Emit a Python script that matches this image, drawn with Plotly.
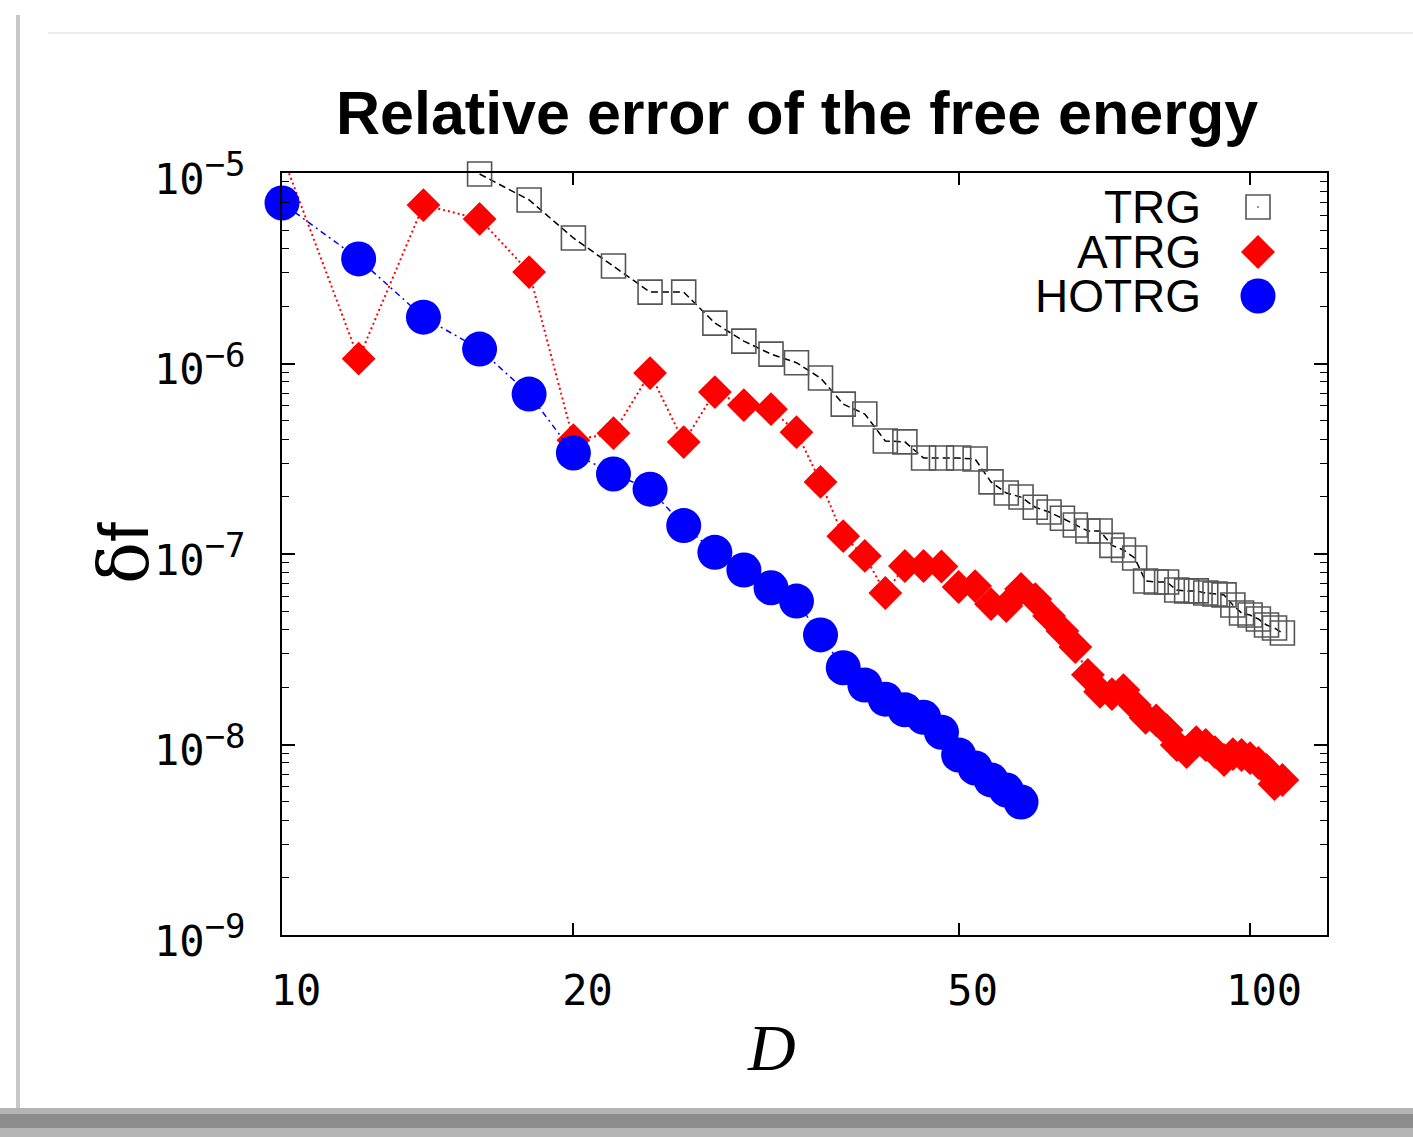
import plotly.graph_objects as go

# ---------------- data ----------------
D_TRG = [16, 18, 20, 22, 24, 26, 28, 30, 32, 34, 36, 38, 40, 42, 44, 46, 48, 50, 52, 54,
         56, 58, 60, 62, 64, 66, 68, 70, 72, 74, 76, 78, 80, 82, 84, 86, 88, 90, 92, 94,
         96, 98, 100, 102, 104, 106, 108]
dF_TRG = [9.88e-6, 7.22e-6, 4.56e-6, 3.25e-6, 2.37e-6, 2.37e-6, 1.63e-6, 1.31e-6, 1.12e-6, 1.01e-6,
          8.39e-7, 6.12e-7, 5.43e-7, 3.92e-7, 3.88e-7, 3.19e-7, 3.19e-7, 3.19e-7, 3.15e-7, 2.39e-7,
          2.09e-7, 1.99e-7, 1.76e-7, 1.66e-7, 1.54e-7, 1.42e-7, 1.32e-7, 1.32e-7, 1.11e-7, 1.05e-7,
          9.53e-8, 7.21e-8, 7.13e-8, 7.13e-8, 6.47e-8, 6.40e-8, 6.40e-8, 6.24e-8, 6.17e-8, 6.10e-8,
          5.40e-8, 4.90e-8, 4.78e-8, 4.56e-8, 4.24e-8, 4.09e-8, 3.85e-8]

D_ATRG = [10, 12, 14, 16, 18, 20, 22, 24, 26, 28, 30, 32, 34, 36, 38, 40, 42, 44, 46, 48,
          50, 52, 54, 56, 58, 60, 62, 64, 66, 68, 70, 72, 74, 76, 78, 80, 82, 84, 86, 88,
          90, 92, 94, 96, 98, 100, 102, 104, 106, 108]
dF_ATRG = [1.25e-5, 1.06e-6, 6.79e-6, 5.74e-6, 3.02e-6, 3.96e-7, 4.31e-7, 8.91e-7, 3.87e-7, 7.08e-7,
           6.05e-7, 5.76e-7, 4.36e-7, 2.39e-7, 1.24e-7, 9.77e-8, 6.24e-8, 8.65e-8, 8.65e-8, 8.60e-8,
           6.71e-8, 6.79e-8, 5.46e-8, 5.33e-8, 6.55e-8, 5.80e-8, 4.73e-8, 3.94e-8, 3.25e-8, 2.32e-8,
           1.89e-8, 1.84e-8, 1.93e-8, 1.61e-8, 1.38e-8, 1.34e-8, 1.19e-8, 9.94e-9, 9.13e-9, 1.03e-8,
           9.94e-9, 9.13e-9, 8.29e-9, 8.91e-9, 8.81e-9, 8.49e-9, 8.00e-9, 7.35e-9, 6.20e-9, 6.51e-9]

D_HOTRG = [10, 12, 14, 16, 18, 20, 22, 24, 26, 28, 30, 32, 34, 36, 38, 40, 42, 44, 46, 48,
           50, 52, 54, 56, 58]
dF_HOTRG = [6.96e-6, 3.54e-6, 1.75e-6, 1.19e-6, 6.91e-7, 3.39e-7, 2.63e-7, 2.19e-7, 1.41e-7, 1.02e-7,
            8.24e-8, 6.65e-8, 5.66e-8, 3.76e-8, 2.53e-8, 2.05e-8, 1.73e-8, 1.52e-8, 1.39e-8, 1.16e-8,
            8.81e-9, 7.53e-9, 6.52e-9, 5.77e-9, 4.99e-9]

x_tickvals = [10, 20, 50, 100]
x_ticktext = ["10", "20", "50", "100"]
y_tickvals = [1e-9, 1e-8, 1e-7, 1e-6, 1e-5]
y_exponents = ["9", "8", "7", "6", "5"]
y_ticktext = ['10<sup><span style="font-size:34px">\u2212' + e + '</span></sup>' for e in y_exponents]
y_minor = [k * 10.0 ** e for e in range(-9, -5) for k in range(2, 10)]

title_text = "Relative error of the free energy"
legend_names = ["TRG", "ATRG", "HOTRG"]

# ---------------- layout geometry ----------------
W, H = 1413, 1137
L, R, T, B = 282, 1327, 173, 935


def px(x):
    return (x - L) / (R - L)


def py(y):
    return (B - y) / (B - T)


fig = go.Figure()

fig.add_trace(go.Scatter(
    x=D_TRG, y=dF_TRG, mode="lines+markers", name="TRG", cliponaxis=False,
    line=dict(color="black", width=1.5, dash="7px,4px"),
    marker=dict(symbol="square-open", size=24, color="#555555",
                line=dict(width=1.6, color="#555555")),
))
fig.add_trace(go.Scatter(
    x=D_ATRG, y=dF_ATRG, mode="lines+markers", name="ATRG", cliponaxis=True,
    line=dict(color="#ff0000", width=2, dash="2px,3px"),
    marker=dict(symbol="diamond", size=26, color="#ff0000", line=dict(width=0)),
))
fig.add_trace(go.Scatter(
    x=D_HOTRG, y=dF_HOTRG, mode="lines+markers", name="HOTRG", cliponaxis=False,
    line=dict(color="#0000ff", width=1.5, dash="6px,4px,2px,4px"),
    marker=dict(symbol="circle", size=35, color="#0000ff", line=dict(width=0)),
))

tickfont = dict(family="DejaVu Sans Mono", size=42, color="black")

fig.update_layout(
    width=W, height=H, autosize=False,
    margin=dict(l=L, r=W - R, t=T, b=H - B, pad=0),
    paper_bgcolor="white", plot_bgcolor="white",
    showlegend=False,
    xaxis=dict(
        type="log", range=[1, 2.0795],
        tickmode="array", tickvals=x_tickvals, ticktext=x_ticktext,
        ticks="inside", ticklen=12, tickwidth=1.5, tickcolor="black",
        showline=True, linecolor="black", linewidth=2, mirror="ticks",
        showgrid=False, zeroline=False, tickfont=tickfont,
        ticklabelshift=14, ticklabelstandoff=18,
    ),
    yaxis=dict(
        type="log", range=[-9, -5],
        tickmode="array", tickvals=y_tickvals, ticktext=y_ticktext,
        ticks="inside", ticklen=13, tickwidth=1.5, tickcolor="black",
        showline=True, linecolor="black", linewidth=2, mirror="ticks",
        showgrid=False, zeroline=False, tickfont=tickfont,
        ticklabelstandoff=26, ticklabelshift=6,
        minor=dict(tickmode="array", tickvals=y_minor, ticks="inside", ticklen=7,
                   tickwidth=1.2, tickcolor="black", showgrid=False),
    ),
)

annotations = [
    dict(text="<b>" + title_text + "</b>", x=px(797), y=py(113), xref="paper", yref="paper",
         xanchor="center", yanchor="middle", showarrow=False,
         font=dict(family="Liberation Sans", size=61, color="black")),
    dict(text='<span style="font-family:DejaVu Serif">\u03b4</span>f',
         x=px(124), y=py(553), xref="paper", yref="paper", textangle=-90,
         xanchor="center", yanchor="middle", showarrow=False,
         font=dict(family="Liberation Sans", size=70, color="black")),
    dict(text="<i>D</i>", x=px(771), y=py(1047), xref="paper", yref="paper",
         xanchor="center", yanchor="middle", showarrow=False,
         font=dict(family="Liberation Serif", size=66, color="black")),
]
for name, yc in zip(legend_names, [207, 252, 296]):
    annotations.append(dict(text=name, x=px(1203), y=py(yc), xref="paper", yref="paper",
                            xanchor="right", yanchor="middle", showarrow=False,
                            font=dict(family="Liberation Sans", size=46, color="black")))
fig.update_layout(annotations=annotations)

shapes = []
# legend symbols
cx = 1258
shapes.append(dict(type="rect", xref="paper", yref="paper",
                   x0=px(cx - 12), x1=px(cx + 12), y0=py(207 + 12), y1=py(207 - 12),
                   line=dict(color="#555555", width=1.6), fillcolor="rgba(0,0,0,0)"))
shapes.append(dict(type="rect", xref="paper", yref="paper",
                   x0=px(cx - 0.8), x1=px(cx + 0.8), y0=py(207 + 0.8), y1=py(207 - 0.8),
                   line=dict(width=0), fillcolor="#555555"))
d = 17
shapes.append(dict(type="path", xref="paper", yref="paper",
                   path=f"M {px(cx - d)} {py(252)} L {px(cx)} {py(252 - d)} L {px(cx + d)} {py(252)} "
                        f"L {px(cx)} {py(252 + d)} Z",
                   line=dict(width=0), fillcolor="#ff0000"))
shapes.append(dict(type="circle", xref="paper", yref="paper",
                   x0=px(cx - 17.5), x1=px(cx + 17.5), y0=py(296 + 17.5), y1=py(296 - 17.5),
                   line=dict(width=0), fillcolor="#0000ff"))
# slide-like frame decorations
shapes.append(dict(type="line", xref="paper", yref="paper", layer="below",
                   x0=px(48), x1=px(1413), y0=py(33), y1=py(33),
                   line=dict(color="#ececec", width=2)))
shapes.append(dict(type="line", xref="paper", yref="paper", layer="below",
                   x0=px(18), x1=px(18), y0=py(15), y1=py(1110),
                   line=dict(color="#c8c8c8", width=4)))
shapes.append(dict(type="rect", xref="paper", yref="paper", layer="below",
                   x0=px(0), x1=px(1413), y0=py(1137), y1=py(1108),
                   line=dict(width=0), fillcolor="#b4b4b4"))
shapes.append(dict(type="rect", xref="paper", yref="paper", layer="below",
                   x0=px(0), x1=px(1413), y0=py(1128), y1=py(1114),
                   line=dict(width=0), fillcolor="#8c8c8c"))
fig.update_layout(shapes=shapes)

fig.write_html("out.html", config={"displayModeBar": False},
               post_script="document.body.style.margin='0';document.body.style.overflow='hidden';")
